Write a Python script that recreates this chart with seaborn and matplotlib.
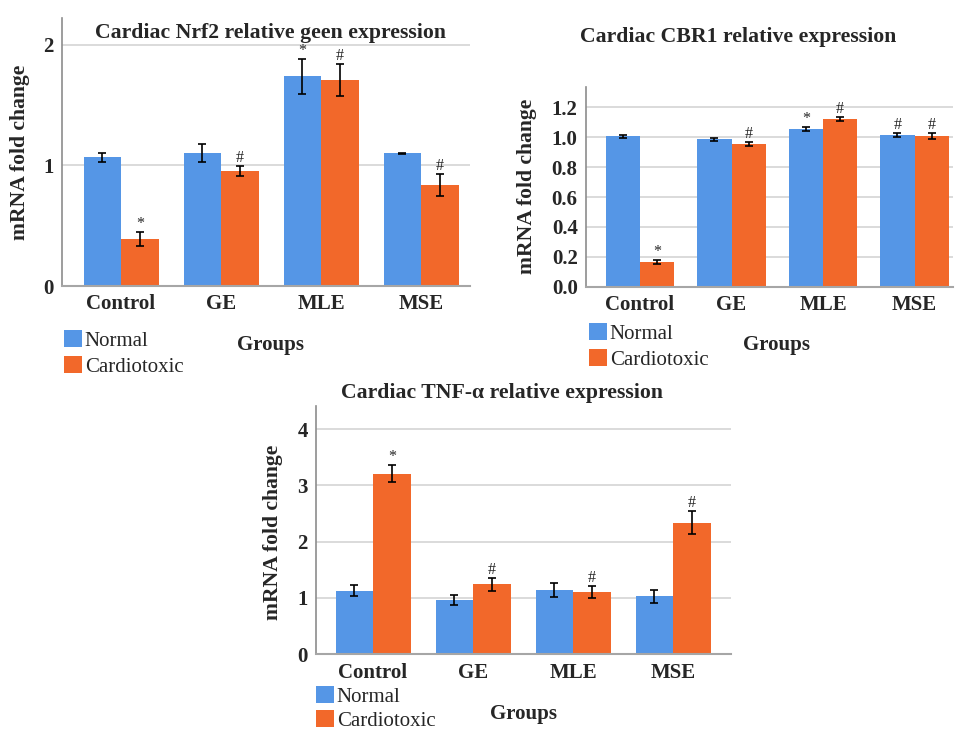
import pandas as pd
import seaborn as sns
import matplotlib.pyplot as plt

groups = ['Control', 'GE', 'MLE', 'MSE']
conditions = ['Normal', 'Cardiotoxic']
colors = ['#5596E6', '#F2682A']

# Nrf2 panel
nrf2_normal = [1.065, 1.10, 1.737, 1.098]
nrf2_cardio = [0.39, 0.95, 1.707, 0.838]
nrf2_normal_err = [0.035, 0.075, 0.144, 0.005]
nrf2_cardio_err = [0.06, 0.04, 0.13, 0.09]
nrf2_normal_sig = ['', '', '*', '']
nrf2_cardio_sig = ['*', '#', '#', '#']
nrf2_ticks = [0, 1, 2]
nrf2_ticklabels = ['0', '1', '2']

# CBR1 panel
cbr1_normal = [1.005, 0.986, 1.055, 1.013]
cbr1_cardio = [0.165, 0.953, 1.122, 1.008]
cbr1_normal_err = [0.01, 0.008, 0.012, 0.012]
cbr1_cardio_err = [0.015, 0.015, 0.012, 0.02]
cbr1_normal_sig = ['', '', '*', '#']
cbr1_cardio_sig = ['*', '#', '#', '#']
cbr1_ticks = [0.0, 0.2, 0.4, 0.6, 0.8, 1.0, 1.2]
cbr1_ticklabels = ['0.0', '0.2', '0.4', '0.6', '0.8', '1.0', '1.2']

# TNF-alpha panel
tnf_normal = [1.13, 0.965, 1.143, 1.03]
tnf_cardio = [3.21, 1.245, 1.107, 2.34]
tnf_normal_err = [0.095, 0.095, 0.12, 0.11]
tnf_cardio_err = [0.15, 0.115, 0.11, 0.2]
tnf_normal_sig = ['', '', '', '']
tnf_cardio_sig = ['*', '#', '#', '#']
tnf_ticks = [0, 1, 2, 3, 4]
tnf_ticklabels = ['0', '1', '2', '3', '4']

sns.set_theme(style='white')
plt.rcParams['font.family'] = ['Liberation Serif', 'DejaVu Serif']

W, H = 955, 731
fig = plt.figure(figsize=(W / 100, H / 100), dpi=100)


def px_axes(left, right, top, bottom):
    return fig.add_axes([left / W, 1 - bottom / H, (right - left) / W, (bottom - top) / H])


def plot_panel(ax, normal, cardio, nerr, cerr, nsig, csig, ticks, ticklabels,
               ylim, xlim, title, title_xy, xlabel_xy, ylabel_xy, legend_px,
               spacing=0.27):
    df = pd.DataFrame({
        'Group': groups * 2,
        'Condition': [conditions[0]] * 4 + [conditions[1]] * 4,
        'Value': normal + cardio,
    })
    sns.barplot(data=df, x='Group', y='Value', hue='Condition', order=groups,
                hue_order=conditions, palette=colors, width=0.75, errorbar=None,
                saturation=1, linewidth=0, ax=ax)

    # error bars and significance marks at bar centres
    for cont, errs, sigs in zip(ax.containers, [nerr, cerr], [nsig, csig]):
        for bar, e, s in zip(cont, errs, sigs):
            xc = bar.get_x() + bar.get_width() / 2
            h = bar.get_height()
            ax.errorbar(xc, h, yerr=e, color='black', capsize=3.2, elinewidth=1.2,
                        capthick=1.2, zorder=4)
            if s:
                ax.annotate(s, (xc, h + e), xytext=(0, 0), textcoords='offset points',
                            ha='center', va='bottom', fontsize=11.5, zorder=5)

    ax.set_ylim(*ylim)
    ax.set_xlim(*xlim)
    ax.set_yticks(ticks)
    ax.set_yticklabels(ticklabels, fontsize=15, fontweight='bold')
    ax.set_xticks(range(len(groups)))
    ax.set_xticklabels(groups, fontsize=15, fontweight='bold')
    ax.tick_params(axis='both', length=0, pad=6)
    ax.yaxis.grid(True, color='#d4d4d4', linewidth=1.2)
    ax.set_axisbelow(True)
    for side in ['top', 'right']:
        ax.spines[side].set_visible(False)
    ax.spines['left'].set_color('#8c8c8c')
    ax.spines['bottom'].set_color('#a6a6a6')
    ax.spines['left'].set_linewidth(1.2)
    ax.spines['bottom'].set_linewidth(1.5)

    ax.set_xlabel('Groups', fontsize=15, fontweight='bold', va='center')
    ax.xaxis.set_label_coords(*xlabel_xy)
    ax.set_ylabel('mRNA fold change', fontsize=15.6, fontweight='bold', va='center')
    ax.yaxis.set_label_coords(*ylabel_xy)
    ax.text(title_xy[0], title_xy[1], title, transform=ax.transAxes, ha='center',
            va='center', fontsize=15.7, fontweight='bold')

    handles, labels = ax.get_legend_handles_labels()
    ax.legend(handles, labels, loc='upper left', frameon=False, fontsize=15,
              bbox_to_anchor=(legend_px[0] / W, 1 - legend_px[1] / H),
              bbox_transform=fig.transFigure, borderpad=0, borderaxespad=0,
              handlelength=0.85, handleheight=0.85, handletextpad=0.15,
              labelspacing=spacing)


ax1 = px_axes(62, 470, 18, 286)
plot_panel(ax1, nrf2_normal, nrf2_cardio, nrf2_normal_err, nrf2_cardio_err,
           nrf2_normal_sig, nrf2_cardio_sig, nrf2_ticks, nrf2_ticklabels,
           (0, 2.22), (-0.59, 3.49), 'Cardiac Nrf2 relative geen expression',
           (0.51, 0.944), (0.51, -0.22), (-0.103, 0.5), (64, 330))

ax2 = px_axes(586, 953, 87, 286.7)
plot_panel(ax2, cbr1_normal, cbr1_cardio, cbr1_normal_err, cbr1_cardio_err,
           cbr1_normal_sig, cbr1_cardio_sig, cbr1_ticks, cbr1_ticklabels,
           (0, 1.336), (-0.59, 3.42), 'Cardiac CBR1 relative expression',
           (0.414, 1.25), (0.52, -0.29), (-0.161, 0.5), (589, 323))

ax3 = px_axes(316, 731, 406, 654.3)
plot_panel(ax3, tnf_normal, tnf_cardio, tnf_normal_err, tnf_cardio_err,
           tnf_normal_sig, tnf_cardio_sig, tnf_ticks, tnf_ticklabels,
           (0, 4.41), (-0.57, 3.58), 'Cardiac TNF-α relative expression',
           (0.448, 1.052), (0.499, -0.24), (-0.104, 0.49), (316, 686),
           spacing=0.18)

fig.savefig('out.png', dpi=100, facecolor='white')
